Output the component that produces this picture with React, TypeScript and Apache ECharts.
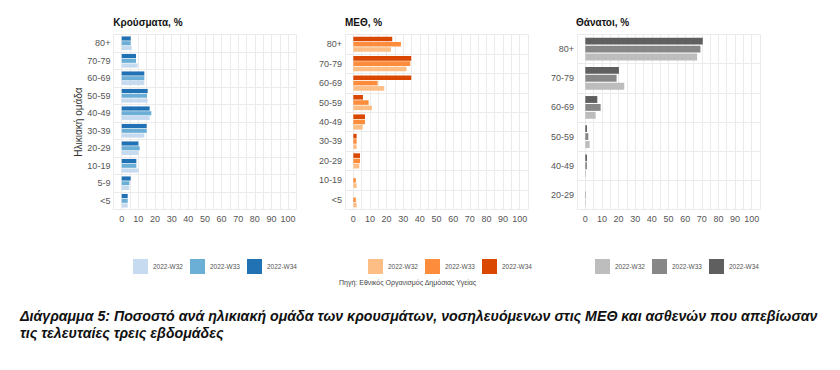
import React, { useEffect, useRef } from "react";
import * as echarts from "echarts";

const weeks = ["2022-W32", "2022-W33", "2022-W34"];

const caseAges = ["80+", "70-79", "60-69", "50-59", "40-49", "30-39", "20-29", "10-19", "5-9", "<5"];
const casesW32 = [6, 9.6, 13.6, 15.6, 16.8, 13.6, 10, 10.2, 4.6, 3.6];
const casesW33 = [5.4, 8.6, 13.6, 15.2, 17.8, 15, 10.8, 8.8, 4.6, 3.6];
const casesW34 = [5.4, 8.6, 13.6, 15.6, 16.8, 15, 10, 8.8, 5.4, 3.6];

const icuAges = ["80+", "70-79", "60-69", "50-59", "40-49", "30-39", "20-29", "10-19", "<5"];
const icuW32 = [22.6, 32, 18.6, 11.2, 5.6, 2, 3.6, 2, 2];
const icuW33 = [28.6, 34.2, 14.6, 9.2, 7, 2, 4, 1.5, 1.5];
const icuW34 = [23.4, 34.8, 34.8, 5.8, 7, 2, 4, 0, 0];

const deathAges = ["80+", "70-79", "60-69", "50-59", "40-49", "20-29"];
const deathW32 = [67.2, 23.4, 6.2, 2.6, 0.4, 0.3];
const deathW33 = [69.2, 18.8, 9.2, 1.8, 1, 0.3];
const deathW34 = [70.6, 20.2, 7.2, 1, 1, 0];

const xTicks = [0, 10, 20, 30, 40, 50, 60, 70, 80, 90, 100];

const panelTitles = ["Κρούσματα, %", "ΜΕΘ, %", "Θάνατοι, %"];
const yAxisName = "Ηλικιακή ομάδα";
const sourceText = "Πηγή: Εθνικός Οργανισμός Δημόσιας Υγείας";
const captionLine1 =
  "Διάγραμμα 5: Ποσοστό ανά ηλικιακή ομάδα των κρουσμάτων, νοσηλευόμενων στις ΜΕΘ και ασθενών που απεβίωσαν";
const captionLine2 = "τις τελευταίες τρεις εβδομάδες";

const blues = ["#c6dbef", "#6baed6", "#2171b5"];
const oranges = ["#fdbe85", "#fd8d3c", "#d94701"];
const grays = ["#bdbdbd", "#878787", "#5f5f5f"];

const FONT = "Liberation Sans, Arial, sans-serif";

export default function App() {
  const ref = useRef<HTMLDivElement>(null);

  useEffect(() => {
    if (!ref.current) return;
    const chart = echarts.init(ref.current, null, { renderer: "svg" });

    const panels = [
      { key: "K", ages: caseAges, data: [casesW32, casesW33, casesW34], colors: blues, left: 113.4, legendLeft: 128 },
      { key: "M", ages: icuAges, data: [icuW32, icuW33, icuW34], colors: oranges, left: 345, legendLeft: 363 },
      { key: "T", ages: deathAges, data: [deathW32, deathW33, deathW34], colors: grays, left: 577, legendLeft: 590 },
    ];

    const grids: any[] = [];
    const xAxes: any[] = [];
    const yAxes: any[] = [];
    const series: any[] = [];
    const legends: any[] = [];

    panels.forEach((p, i) => {
      grids.push({ left: p.left, top: 34.5, width: 183, height: 175, containLabel: false });
      xAxes.push({
        type: "value",
        gridIndex: i,
        min: -5,
        max: 105,
        interval: 5,
        axisLine: { show: false },
        axisTick: { show: false },
        axisLabel: {
          color: "#555",
          fontSize: 9,
          fontFamily: FONT,
          margin: 5,
          showMinLabel: true,
          showMaxLabel: true,
          formatter: (v: number) => (xTicks.indexOf(Math.round(v)) >= 0 ? String(Math.round(v)) : ""),
        },
        splitLine: { show: true, lineStyle: { color: "#ebebeb", width: 1 } },
      });
      const agesBottomUp = [...p.ages].reverse();
      yAxes.push({
        type: "category",
        gridIndex: i,
        data: agesBottomUp,
        axisLine: { show: false },
        axisTick: { show: false },
        axisLabel: { color: "#555", fontSize: 9, fontFamily: FONT, margin: 3 },
        splitLine: { show: true, lineStyle: { color: "#ebebeb", width: 1 } },
        ...(i === 0
          ? {
              name: yAxisName,
              nameLocation: "middle",
              nameGap: 26,
              nameRotate: 90,
              nameTextStyle: { color: "#333", fontSize: 10, fontFamily: FONT },
            }
          : {}),
      });
      // series order: W34 first so that it sits on top of each group
      [2, 1, 0].forEach((j) => {
        series.push({
          type: "bar",
          name: p.key + "|" + weeks[j],
          xAxisIndex: i,
          yAxisIndex: i,
          data: [...p.data[j]].reverse(),
          itemStyle: { color: p.colors[j] },
          barGap: "15%",
          barCategoryGap: "22%",
        });
      });
      legends.push({
        data: weeks.map((w) => p.key + "|" + w),
        left: p.legendLeft,
        top: 254,
        orient: "horizontal",
        icon: "rect",
        itemWidth: 15,
        itemHeight: 15,
        itemGap: 7,
        selectedMode: false,
        formatter: (n: string) => n.split("|")[1],
        textStyle: { fontSize: 6.5, color: "#555", fontFamily: FONT },
      });
    });

    const titleX = [113.3, 345, 576];

    chart.setOption({
      animation: false,
      backgroundColor: "#ffffff",
      grid: grids,
      xAxis: xAxes,
      yAxis: yAxes,
      legend: legends,
      series,
      graphic: [
        ...panelTitles.map((t, i) => ({
          type: "text",
          left: titleX[i],
          top: 17,
          style: { text: t, fontSize: 10, fontWeight: "bold", fill: "#111", fontFamily: FONT },
        })),
        {
          type: "text",
          left: 339,
          top: 279,
          style: { text: sourceText, fontSize: 7, fill: "#444", fontFamily: FONT },
        },
        {
          type: "text",
          left: 20,
          top: 309,
          style: {
            text: captionLine1,
            fontSize: 14.2,
            fontWeight: "bold",
            fontStyle: "italic",
            fill: "#111",
            fontFamily: "Liberation Sans Narrow, Liberation Sans, sans-serif",
          },
        },
        {
          type: "text",
          left: 20,
          top: 326,
          style: {
            text: captionLine2,
            fontSize: 14.2,
            fontWeight: "bold",
            fontStyle: "italic",
            fill: "#111",
            fontFamily: "Liberation Sans Narrow, Liberation Sans, sans-serif",
          },
        },
      ],
    });

    return () => chart.dispose();
  }, []);

  return (
    <div
      ref={ref}
      style={{ position: "fixed", left: 0, top: 0, width: 840, height: 370, background: "#fff" }}
    />
  );
}
